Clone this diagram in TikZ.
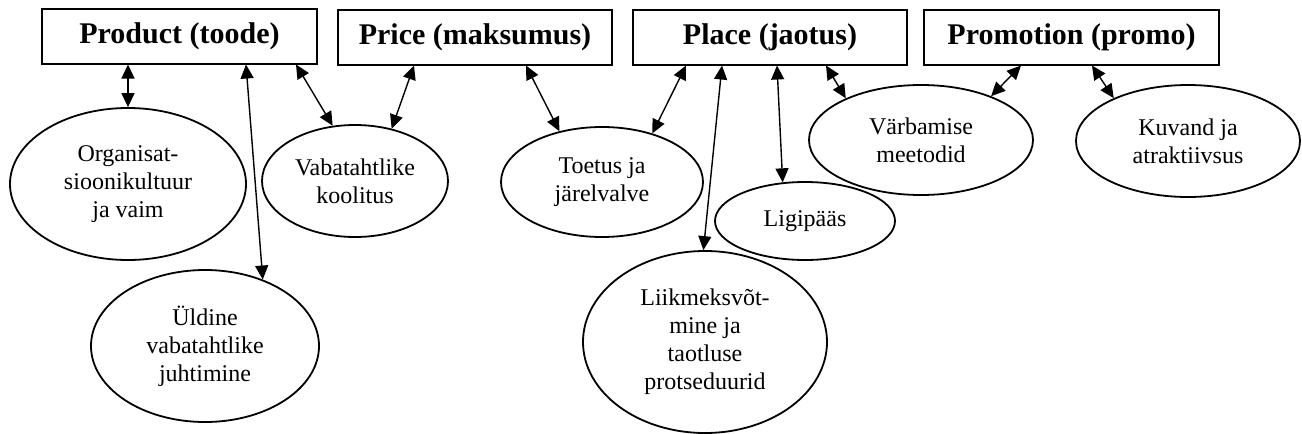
\documentclass[tikz,border=0pt]{standalone}
\usepackage{fontspec}
\setmainfont{Liberation Serif}
\usetikzlibrary{shapes.geometric,arrows.meta}
\begin{document}
\begin{tikzpicture}[x=0.5pt,y=-0.5pt]
        \tikzstyle{header}=[rectangle,draw=black,line width=1pt,minimum height=27.5pt,inner sep=0pt,font=\fontsize{15}{18}\selectfont\bfseries]
        \tikzstyle{topic}=[ellipse,draw=black,line width=0.9pt,inner sep=0pt,align=center,font=\fontsize{12}{14}\selectfont]
        \tikzstyle{link}=[{Triangle[length=7pt,width=6.5pt]}-{Triangle[length=7pt,width=6.5pt]},line width=0.7pt]
        \useasboundingbox (0,0) rectangle (1302,434);

        \node[header,minimum width=137.5pt] (prod) at (179.5,36) {Product (toode)};
        \node[header,minimum width=137pt] (price) at (475,37) {Price (maksumus)};
        \node[header,minimum width=137pt] (place) at (770,37) {Place (jaotus)};
        \node[header,minimum width=147.5pt] (promo) at (1071.5,37) {Promotion (promo)};

        \node[topic,minimum width=118pt,minimum height=76pt] (org) at (128,184) {Organisat-\\sioonikultuur\\ja vaim};
        \node[topic,minimum width=93pt,minimum height=56pt] (kool) at (355,181) {Vabatahtlike\\koolitus};
        \node[topic,minimum width=101pt,minimum height=55pt] (toet) at (602,182) {Toetus ja\\järelvalve};
        \node[topic,minimum width=90pt,minimum height=39pt] (ligi) at (805,221) {Ligipääs};
        \node[topic,minimum width=122pt,minimum height=91pt] (liik) at (705,342) {Liikmeksvõt-\\mine ja\\taotluse\\protseduurid};
        \node[topic,minimum width=114pt,minimum height=76pt] (yld) at (205,346) {Üldine\\vabatahtlike\\juhtimine};
        \node[topic,minimum width=112pt,minimum height=55pt] (varb) at (921,140) {Värbamise\\meetodid};
        \node[topic,minimum width=112pt,minimum height=56pt] (kuv) at (1188,141) {Kuvand ja\\atraktiivsus};

        \draw[link] (org.north |- prod.south) -- (org.north);
        \draw[link] ([xshift=102.5pt]prod.south west) -- (yld.49);
        \draw[link] ([xshift=127.5pt]prod.south west) -- (kool.112);
        \draw[link] ([xshift=38.5pt]price.south west) -- (kool.55);
        \draw[link] ([xshift=94.5pt]price.south west) -- (toet.130);
        \draw[link] ([xshift=27pt]place.south west) -- (toet.44);
        \draw[link] ([xshift=45pt]place.south west) -- (liik.91);
        \draw[link] ([xshift=72.5pt]place.south west) -- (ligi.120);
        \draw[link] ([xshift=97pt]place.south west) -- (varb.151);
        \draw[link] ([xshift=49pt]promo.south west) -- (varb.32);
        \draw[link] ([xshift=84.5pt]promo.south west) -- (kuv.150);
    \end{tikzpicture}
\end{document}
